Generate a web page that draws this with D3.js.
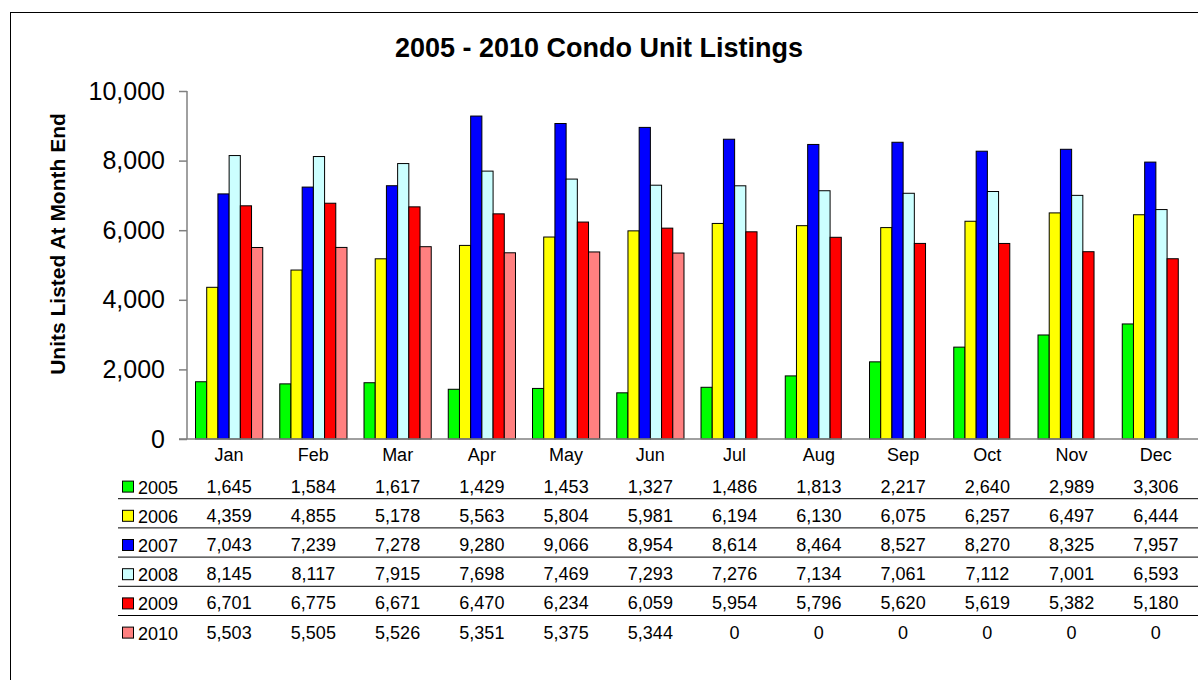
<!DOCTYPE html>
<html>
<head>
<meta charset="utf-8">
<script src="https://d3js.org/d3.v7.min.js"></script>
<style>
  body { margin: 0; background: #fff; overflow: hidden; }
  text { font-family: "Liberation Sans", Arial, sans-serif; }
</style>
</head>
<body>
<div id="chart"></div>
<script>
// data
var months = ["Jan", "Feb", "Mar", "Apr", "May", "Jun", "Jul", "Aug", "Sep", "Oct", "Nov", "Dec"];
var years = ["2005", "2006", "2007", "2008", "2009", "2010"];
var v2005 = [1645, 1584, 1617, 1429, 1453, 1327, 1486, 1813, 2217, 2640, 2989, 3306];
var v2006 = [4359, 4855, 5178, 5563, 5804, 5981, 6194, 6130, 6075, 6257, 6497, 6444];
var v2007 = [7043, 7239, 7278, 9280, 9066, 8954, 8614, 8464, 8527, 8270, 8325, 7957];
var v2008 = [8145, 8117, 7915, 7698, 7469, 7293, 7276, 7134, 7061, 7112, 7001, 6593];
var v2009 = [6701, 6775, 6671, 6470, 6234, 6059, 5954, 5796, 5620, 5619, 5382, 5180];
var v2010 = [5503, 5505, 5526, 5351, 5375, 5344, 0, 0, 0, 0, 0, 0];
var yTicks = [0, 2000, 4000, 6000, 8000, 10000];
var colors = ["#00FF00", "#FFFF00", "#0000FF", "#CCFFFF", "#FF0000", "#FF8080"];

var series = [v2005, v2006, v2007, v2008, v2009, v2010];

var width = 1198, height = 680;
var plotLeft = 187, plotRight = 1198, plotTop = 91, plotBottom = 439;

var svg = d3.select("#chart").append("svg")
  .attr("width", width).attr("height", height)
  .style("display", "block");

// outer frame (runs off the right and bottom edges)
svg.append("rect")
  .attr("x", 10.5).attr("y", 12.5)
  .attr("width", 1300).attr("height", 800)
  .attr("fill", "white").attr("stroke", "black");

svg.append("text")
  .attr("x", 599).attr("y", 57)
  .attr("text-anchor", "middle")
  .style("font-size", "27px").style("font-weight", "bold")
  .text("2005 - 2010 Condo Unit Listings");

svg.append("text")
  .attr("transform", "translate(65,244) rotate(-90)")
  .attr("text-anchor", "middle")
  .style("font-size", "21px").style("font-weight", "bold")
  .text("Units Listed At Month End");

var x = d3.scaleBand().domain(months).range([plotLeft, plotRight]).paddingInner(0).paddingOuter(0);
var y = d3.scaleLinear().domain([0, 10000]).range([plotBottom, plotTop]);
var xi = d3.scaleBand().domain(years).range([0, x.bandwidth()]).paddingOuter(0.76).paddingInner(0);

// bars
months.forEach(function(m, i) {
  series.forEach(function(s, j) {
    if (s[i] <= 0) return;
    svg.append("rect")
      .attr("x", x(m) + xi(years[j]))
      .attr("y", y(s[i]))
      .attr("width", xi.bandwidth())
      .attr("height", y(0) - y(s[i]))
      .attr("fill", colors[j])
      .attr("stroke", "black")
      .attr("stroke-width", 1);
  });
});

// y axis
var yAxis = svg.append("g")
  .attr("transform", "translate(" + plotLeft + ",0)")
  .call(d3.axisLeft(y).tickValues(yTicks).tickSize(8).tickPadding(14).tickFormat(d3.format(",")));
yAxis.selectAll("path, line").attr("stroke", "#808080").attr("stroke-width", 1.5);
yAxis.select(".domain").attr("d", "M0," + plotTop + "V" + plotBottom);
yAxis.selectAll("text").style("font-size", "25px").attr("fill", "black")
  .style("font-family", "'Liberation Sans', Arial, sans-serif");

// x axis line
svg.append("line")
  .attr("x1", plotLeft - 8).attr("x2", plotRight)
  .attr("y1", plotBottom).attr("y2", plotBottom)
  .attr("stroke", "#808080").attr("stroke-width", 1.5);

// month labels
svg.selectAll(".month").data(months).enter().append("text")
  .attr("x", function(d) { return x(d) + x.bandwidth() / 2; })
  .attr("y", 461)
  .attr("text-anchor", "middle")
  .style("font-size", "18px")
  .text(function(d) { return d; });

// data table
var rowTop = 472, rowH = 29.2;
var fmt = d3.format(",");
years.forEach(function(yr, j) {
  var cy = rowTop + j * rowH + rowH / 2;
  svg.append("rect")
    .attr("x", 122.5).attr("y", cy - 5.5)
    .attr("width", 11).attr("height", 11)
    .attr("fill", colors[j]).attr("stroke", "black");
  svg.append("text")
    .attr("x", 138).attr("y", cy + 7)
    .style("font-size", "18px")
    .text(yr);
  months.forEach(function(m, i) {
    svg.append("text")
      .attr("x", x(m) + x.bandwidth() / 2)
      .attr("y", cy + 6)
      .attr("text-anchor", "middle")
      .style("font-size", "18px")
      .text(fmt(series[j][i]));
  });
  if (j < years.length - 1) {
    svg.append("line")
      .attr("x1", 118).attr("x2", plotRight)
      .attr("y1", rowTop + (j + 1) * rowH - 2.5).attr("y2", rowTop + (j + 1) * rowH - 2.5)
      .attr("stroke", "black").attr("stroke-width", 1);
  }
});
</script>
</body>
</html>
